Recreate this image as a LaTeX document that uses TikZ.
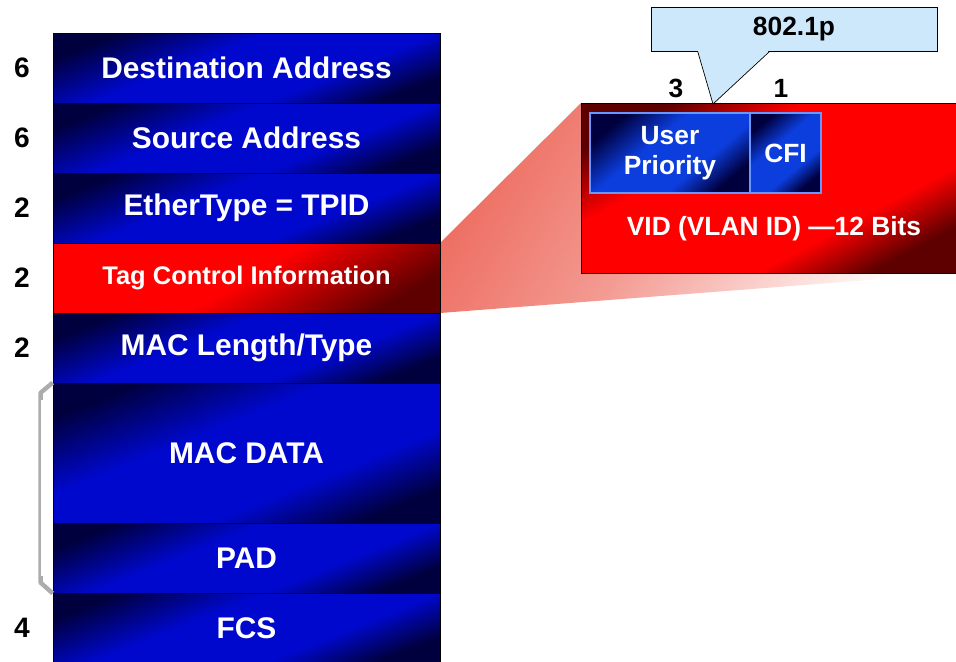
\documentclass[tikz,border=0pt]{standalone}
\usepackage{fontspec}
\setmainfont{Liberation Sans}

\definecolor{navydark}{RGB}{0,0,62}
\definecolor{barblue}{RGB}{0,8,205}
\definecolor{innerblue}{RGB}{12,62,222}
\definecolor{innerline}{RGB}{105,150,255}
\definecolor{reddark}{RGB}{95,0,0}
\definecolor{calloutfill}{RGB}{205,232,250}
\definecolor{fansalmon}{RGB}{238,112,100}

\pgfdeclarehorizontalshading{bluebar}{100bp}{color(0bp)=(navydark); color(25bp)=(navydark); color(42bp)=(barblue); color(62bp)=(barblue); color(75bp)=(navydark); color(100bp)=(navydark)}
\pgfdeclarehorizontalshading{innerbar}{100bp}{color(0bp)=(navydark); color(25bp)=(navydark); color(42bp)=(innerblue); color(62bp)=(innerblue); color(75bp)=(navydark); color(100bp)=(navydark)}
\pgfdeclarehorizontalshading{redbar}{100bp}{color(0bp)=(reddark); color(25bp)=(reddark); color(38bp)=(red); color(64bp)=(red); color(75bp)=(reddark); color(100bp)=(reddark)}
\pgfdeclarehorizontalshading{tagbar}{100bp}{color(0bp)=(red); color(25bp)=(red); color(50bp)=(red); color(75bp)=(reddark); color(100bp)=(reddark)}
\pgfdeclarehorizontalshading{fanbar}{100bp}{color(0bp)=(fansalmon); color(25bp)=(fansalmon); color(45bp)=(fansalmon!70!white); color(75bp)=(white); color(100bp)=(white)}

\begin{document}
\begin{tikzpicture}[x=0.02cm,y=-0.02cm,
	frame/.style={draw=black, shade, shading=bluebar, shading angle=-68, minimum width=7.74cm, minimum height=1.4cm, inner sep=0pt, text=white, font=\bfseries\fontsize{17}{20}\selectfont},
	num/.style={font=\bfseries\fontsize{16}{19}\selectfont, text=black},
	field/.style={draw=innerline, line width=1pt, shade, shading=innerbar, shading angle=-50, minimum height=1.6cm, inner sep=0pt, text=white, align=center, font=\bfseries\fontsize{15}{17}\selectfont}]

	\useasboundingbox (0,0) rectangle (956,662);
	\clip (0,0) rectangle (956,662);

	%fan from the tag field to the enlarged view
	\coordinate (fantop) at (581,103);
	\coordinate (fanend) at (960,273);
	\shade[shading=fanbar, shading angle=-30] (440,243) -- (fantop) -- (fanend) -- (440,313) -- cycle;

	%frame fields
	\node[frame] (dst) at (246.5,68) {Destination Address};
	\node[frame] (src) at (246.5,138) {Source Address};
	\node[frame] (eth) at (246.5,208) {EtherType = TPID};
	\node[frame, shading=tagbar, shading angle=-60, font=\bfseries\fontsize{14.5}{17}\selectfont] (tag) at (246.5,278) {Tag Control Information};
	\node[frame] (len) at (246.5,348) {MAC Length/Type};
	\node[frame, minimum height=2.8cm] (mac) at (246.5,453) {MAC DATA};
	\node[frame] (pad) at (246.5,558) {PAD};
	\node[frame] (fcs) at (246.5,628) {FCS};

	%byte counts
	\node[num] (ndst) at (22,68) {6};
	\node[num] (nsrc) at (22,138) {6};
	\node[num] (neth) at (22,208) {2};
	\node[num] (ntag) at (22,278) {2};
	\node[num] (nlen) at (22,348) {2};
	\node[num] (nfcs) at (22,628) {4};

	%bracket round data and pad
	\draw[gray!65, line width=2.5pt, line join=round] (mac.north west) -- ++(-12,10) -- ++(0,190) -- (pad.south west);
	\draw[white, line width=1.2pt] ([xshift=-6pt,yshift=-10pt]mac.north west) -- ([xshift=-6pt,yshift=10pt]pad.south west);

	%enlarged tag control information
	\node[draw=black, shade, shading=redbar, shading angle=-62, minimum width=7.58cm, minimum height=3.4cm, inner sep=0pt] (tcibox) at (770.5,188) {};
	\node[field, minimum width=3.2cm] (prio) at (670,153) {User\\Priority};
	\node[field, minimum width=1.42cm] (cfi) at (785.5,153) {CFI};
	\node[text=white, font=\bfseries\fontsize{15}{17}\selectfont] (vid) at (774,229) {VID (VLAN ID) ---12 Bits};

	\node[num, font=\bfseries\fontsize{15}{18}\selectfont] (nprio) at (676,88) {3};
	\node[num, font=\bfseries\fontsize{15}{18}\selectfont] (ncfi) at (781,88) {1};

	%callout
	\node[draw=black, fill=calloutfill, minimum width=5.72cm, minimum height=0.88cm, inner sep=0pt, font=\bfseries\fontsize{15}{17}\selectfont] (callout) at (794,29) {802.1p};
	\coordinate (tip) at (713,104);
	\path (callout.south west) ++(47,0) coordinate (c1);
	\path (callout.south west) ++(119,0) coordinate (c2);
	\fill[calloutfill] ([yshift=0.8pt]c1) -- (tip) -- ([yshift=0.8pt]c2) -- cycle;
	\draw[black] (c1) -- (tip) -- (c2);

\end{tikzpicture}
\end{document}
